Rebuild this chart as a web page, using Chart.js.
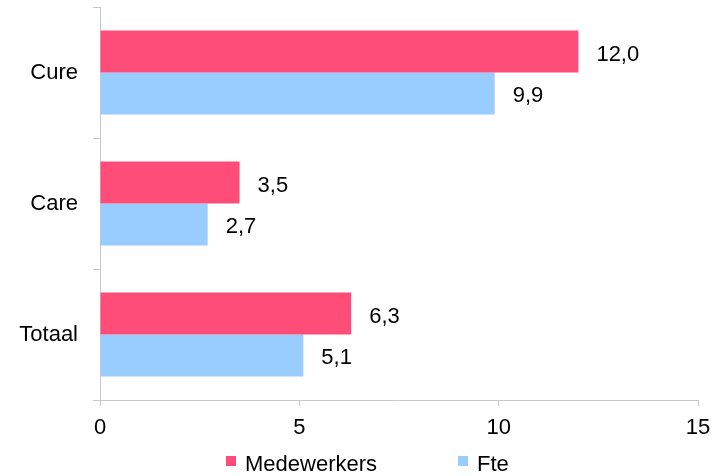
<!DOCTYPE html>
<html>
<head>
<meta charset="utf-8">
<script src="https://cdn.jsdelivr.net/npm/chart.js@4/dist/chart.umd.min.js"></script>
<style>
  html, body { margin: 0; padding: 0; background: #fff; }
  #wrap { width: 715px; height: 476px; position: relative; }
</style>
</head>
<body>
<div id="wrap"><canvas id="c" width="715" height="476"></canvas></div>
<script>
const categories = ['Cure', 'Care', 'Totaal'];
const seriesNames = ['Medewerkers', 'Fte'];
const medewerkers = [12.0, 3.5, 6.3];
const fte = [9.9, 2.7, 5.1];
const xTicks = [0, 5, 10, 15];

const colors = ['#FF4D79', '#99CCFF'];
const FONT = '"Liberation Sans", Arial, sans-serif';
const FS = 22;

const valueLabels = {
  id: 'valueLabels',
  afterDatasetsDraw(chart) {
    const ctx = chart.ctx;
    ctx.save();
    ctx.font = FS + 'px ' + FONT;
    ctx.fillStyle = '#000';
    ctx.textAlign = 'left';
    ctx.textBaseline = 'alphabetic';
    chart.data.datasets.forEach((ds, di) => {
      chart.getDatasetMeta(di).data.forEach((bar, i) => {
        const v = ds.data[i];
        ctx.fillText(v.toFixed(1).replace('.', ','), bar.x + 18, bar.y + 9);
      });
    });
    ctx.restore();
  }
};

const customLegend = {
  id: 'customLegend',
  afterDraw(chart) {
    const ctx = chart.ctx;
    ctx.save();
    ctx.font = FS + 'px ' + FONT;
    ctx.textBaseline = 'alphabetic';
    ctx.textAlign = 'left';
    const positions = [226, 458];
    chart.data.datasets.forEach((ds, i) => {
      const x = positions[i];
      ctx.fillStyle = ds.backgroundColor;
      ctx.fillRect(x, 456, 10, 10);
      ctx.fillStyle = '#000';
      ctx.fillText(ds.label, x + 19, 471);
    });
    ctx.restore();
  }
};

new Chart(document.getElementById('c'), {
  type: 'bar',
  data: {
    labels: categories,
    datasets: [
      { label: seriesNames[0], data: medewerkers, backgroundColor: colors[0], borderWidth: 0 },
      { label: seriesNames[1], data: fte, backgroundColor: colors[1], borderWidth: 0 }
    ]
  },
  options: {
    indexAxis: 'y',
    responsive: false,
    animation: false,
    devicePixelRatio: 1,
    layout: { padding: { top: 7, right: 17, left: 0, bottom: 36 } },
    datasets: { bar: { categoryPercentage: 0.64, barPercentage: 1.0 } },
    plugins: {
      legend: { display: false },
      tooltip: { enabled: false }
    },
    scales: {
      x: {
        min: 0, max: 15,
        afterFit(scale) { scale.height = 40; scale.paddingLeft = 0; scale.paddingRight = 0; },
        afterBuildTicks(scale) { scale.ticks = xTicks.map(v => ({ value: v })); },
        grid: { drawOnChartArea: false, color: '#C8C8C8', tickLength: 6, lineWidth: 1 },
        border: { color: '#C8C8C8', width: 1 },
        ticks: { color: '#000', font: { size: FS, family: FONT }, padding: 9, maxRotation: 0 }
      },
      y: {
        afterFit(scale) { scale.width = 100; scale.paddingTop = 0; scale.paddingBottom = 0; },
        grid: { offset: true, drawOnChartArea: false, color: '#C8C8C8', tickLength: 7, lineWidth: 1 },
        border: { color: '#C8C8C8', width: 1 },
        ticks: { color: '#000', font: { size: FS, family: FONT }, padding: 15 }
      }
    }
  },
  plugins: [valueLabels, customLegend]
});
</script>
</body>
</html>
